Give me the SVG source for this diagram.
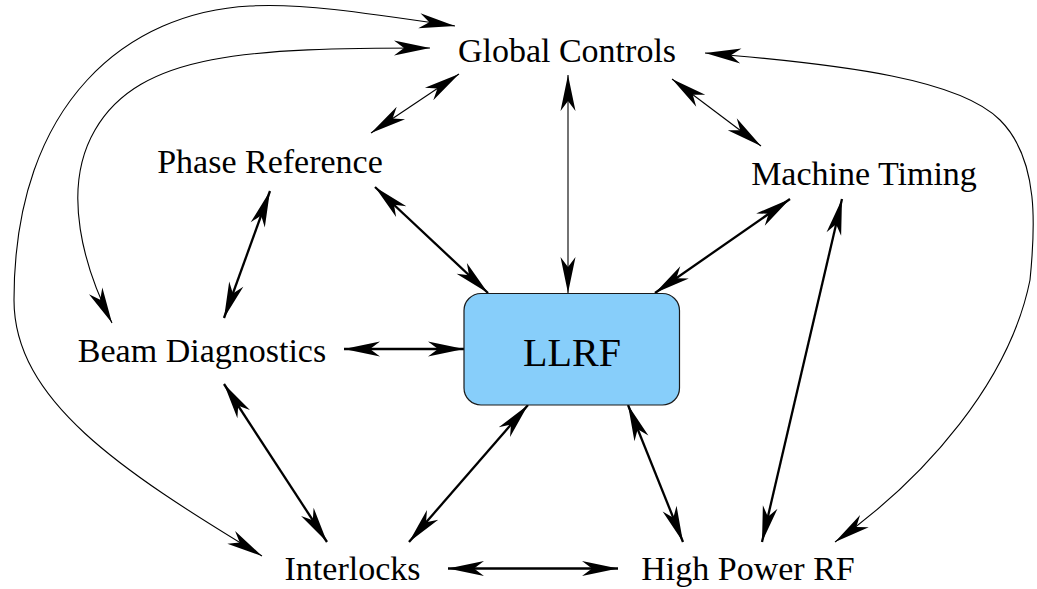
<svg xmlns="http://www.w3.org/2000/svg" width="1037" height="589" viewBox="0 0 1037 589">
<style>
.lbl{font-size:34px;fill:#000;text-anchor:middle}
.big{font-size:40px}
.thin{fill:none;stroke:#000;stroke-width:1.1;marker-start:url(#ah);marker-end:url(#ah)}
.thick{fill:none;stroke:#000;stroke-width:2.3;marker-start:url(#ah);marker-end:url(#ah)}
.box{fill:#87CEFA;stroke:#1a1a1a;stroke-width:1.2}
</style>
<defs>
<marker id="ah" markerUnits="userSpaceOnUse" orient="auto-start-reverse" markerWidth="40" markerHeight="20" refX="0" refY="0" overflow="visible">
<path d="M0,0 L-36,-7.5 L-26,0 L-36,7.5 Z" fill="#000"/>
</marker>
</defs>
<rect width="1037" height="589" fill="#fff"/>
<g id="connectors">
<path class="thin" d="M568,75 L568,293"/>
<path class="thin" d="M459,74 L371,133"/>
<path class="thin" d="M672,79 L761,146"/>
<path class="thick" d="M375,187 L488,293"/>
<path class="thick" d="M270,191 L224,318"/>
<path class="thick" d="M790,199 L655,293"/>
<path class="thick" d="M842,199 L762,542"/>
<path class="thick" d="M344,349 L464,349"/>
<path class="thick" d="M224,384 L327,542"/>
<path class="thick" d="M528,405 L409,542"/>
<path class="thick" d="M628,405 L683,542"/>
<path class="thick" d="M448,568.5 L618,568.5"/>
<path class="thin" d="M455,26 C360,12 300,3 250,6 C130,12 14,100 14,300 C14,400 120,470 262,556"/>
<path class="thin" d="M430,48 C250,48 140,52 95,130 C60,190 85,270 112,323"/>
<path class="thin" d="M705,53 C850,65 960,80 1000,120 C1040,160 1035,230 1030,280 C1010,380 927,477 835,542"/>
</g>
<g font-family="Liberation Serif, Times New Roman, serif">
<g id="llrf">
<rect class="box" x="464" y="293.5" width="215.5" height="111.5" rx="17" ry="17"/>
<text class="lbl big" x="572" y="366">LLRF</text>
</g>
<g id="global-controls"><text class="lbl" x="567" y="62">Global Controls</text></g>
<g id="phase-reference"><text class="lbl" x="270" y="173">Phase Reference</text></g>
<g id="machine-timing"><text class="lbl" x="864" y="185">Machine Timing</text></g>
<g id="beam-diagnostics"><text class="lbl" x="202" y="362">Beam Diagnostics</text></g>
<g id="interlocks"><text class="lbl" x="352.5" y="580">Interlocks</text></g>
<g id="high-power-rf"><text class="lbl" x="748" y="580">High Power RF</text></g>
</g>
</svg>
